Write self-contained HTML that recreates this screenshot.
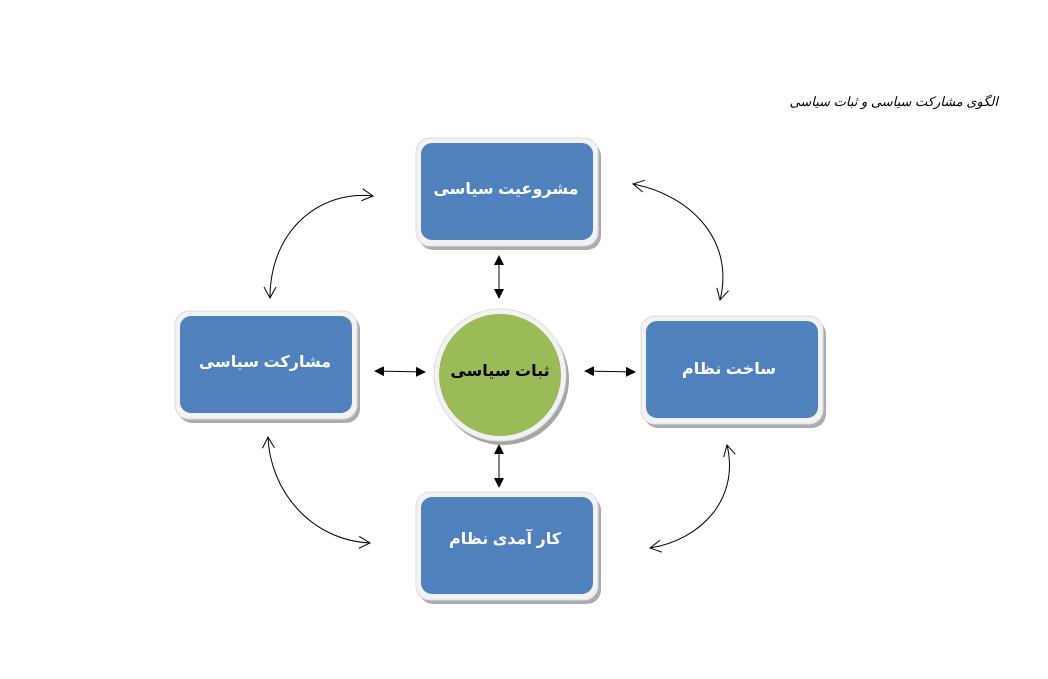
<!DOCTYPE html>
<html><head><meta charset="utf-8"><style>
body{margin:0;background:#fff;}
svg{display:block}
text{font-family:"Liberation Sans","DejaVu Sans",sans-serif;}
</style></head><body>
<svg width="1048" height="679" viewBox="0 0 1048 679" xmlns="http://www.w3.org/2000/svg">
<defs>
<marker id="ah" markerWidth="10" markerHeight="10" refX="9" refY="5" orient="auto-start-reverse" markerUnits="userSpaceOnUse"><path d="M0,0 L10,5 L0,10 Z" fill="#000"/></marker>
<marker id="oh" markerWidth="14" markerHeight="14" refX="12" refY="7" orient="auto-start-reverse" markerUnits="userSpaceOnUse"><path d="M1,1 L12,7 L1,13" fill="none" stroke="#000" stroke-width="1"/></marker>
<g id="box">
<rect x="3" y="4" width="182" height="108" rx="14" fill="#a9acb2"/>
<rect x="0" y="0" width="182" height="108" rx="14" fill="#f2f2f2" stroke="#dcdcdc"/>
<rect x="5" y="5" width="172" height="97" rx="11" fill="#4f81bd"/>
</g>
</defs>
<text x="998" y="106" font-size="13" font-style="italic" text-anchor="start" direction="rtl">الگوی مشارکت سیاسی و ثبات سیاسی</text>
<use href="#box" x="416" y="138"/>
<use href="#box" x="175" y="311"/>
<use href="#box" x="641" y="316"/>
<use href="#box" x="416" y="492"/>
<text x="506" y="194" font-size="16" font-weight="bold" fill="#fff" text-anchor="middle" direction="rtl">مشروعیت سیاسی</text>
<text x="265" y="367" font-size="16" font-weight="bold" fill="#fff" text-anchor="middle" direction="rtl">مشارکت سیاسی</text>
<text x="729" y="374" font-size="16" font-weight="bold" fill="#fff" text-anchor="middle" direction="rtl">ساخت نظام</text>
<text x="505" y="544" font-size="16" font-weight="bold" fill="#fff" text-anchor="middle" direction="rtl">کار آمدی نظام</text>
<circle cx="503" cy="379" r="66" fill="#a5a5a5"/>
<circle cx="500" cy="375" r="66" fill="#f2f2f2" stroke="#dcdcdc"/>
<circle cx="500" cy="375" r="61" fill="#9bbb59"/>
<text x="500" y="376" font-size="16" font-weight="bold" fill="#000" text-anchor="middle" direction="rtl">ثبات سیاسی</text>
<line x1="499" y1="256" x2="499" y2="298" stroke="#000" marker-start="url(#ah)" marker-end="url(#ah)"/>
<line x1="499" y1="445" x2="499" y2="487" stroke="#000" marker-start="url(#ah)" marker-end="url(#ah)"/>
<line x1="375" y1="371" x2="425" y2="372" stroke="#000" marker-start="url(#ah)" marker-end="url(#ah)"/>
<line x1="585" y1="371" x2="635" y2="372" stroke="#000" marker-start="url(#ah)" marker-end="url(#ah)"/>
<path d="M373,196 C320,190 270,230 270,298" fill="none" stroke="#000" marker-start="url(#oh)" marker-end="url(#oh)"/>
<path d="M633,184 C690,195 735,240 720,300" fill="none" stroke="#000" marker-start="url(#oh)" marker-end="url(#oh)"/>
<path d="M268,437 C270,490 310,540 370,543" fill="none" stroke="#000" marker-start="url(#oh)" marker-end="url(#oh)"/>
<path d="M727,445 C740,500 700,540 650,548" fill="none" stroke="#000" marker-start="url(#oh)" marker-end="url(#oh)"/>
</svg>
</body></html>
